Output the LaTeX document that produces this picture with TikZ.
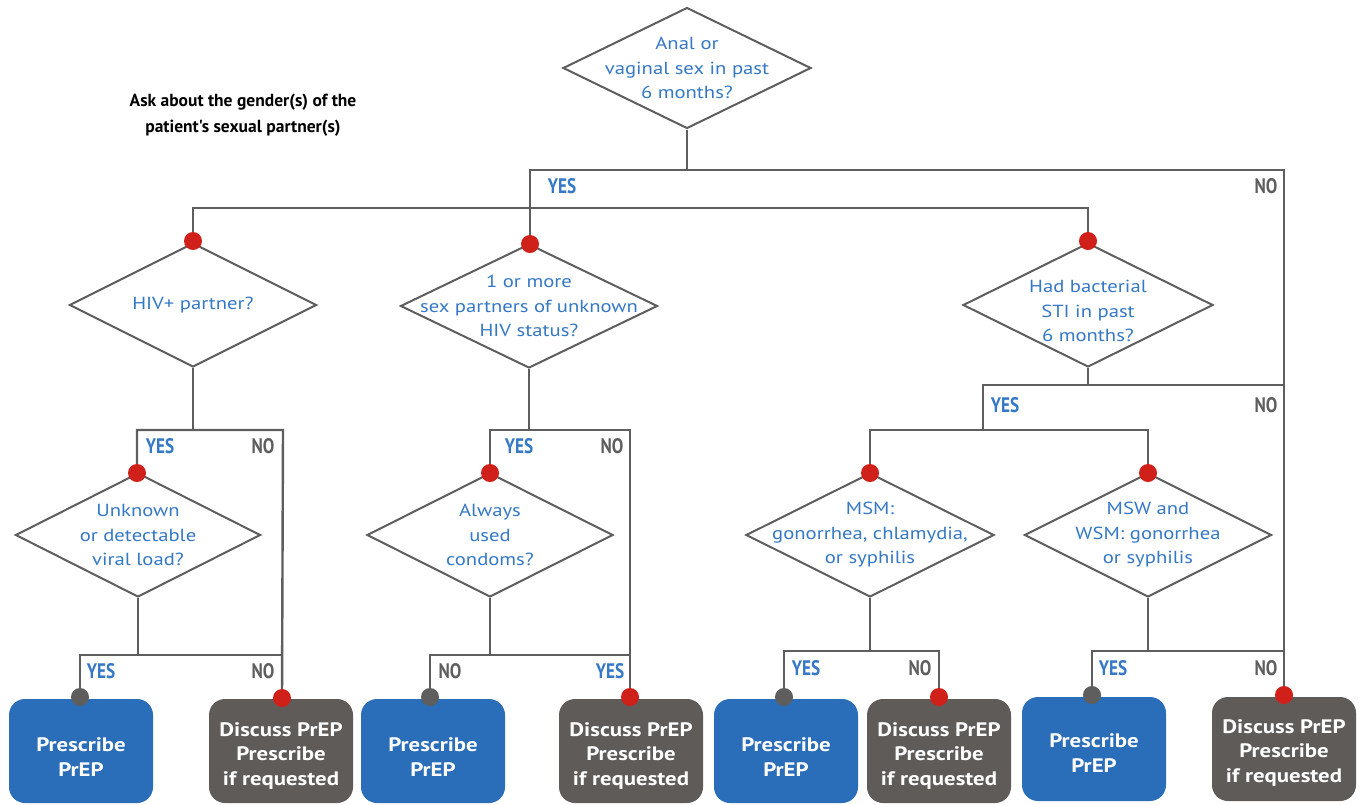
\documentclass[tikz,border=0pt]{standalone}
\usepackage{fontspec}
\setmainfont{PT Sans}
\newfontfamily\condf{PT Sans}[FakeStretch=0.82]
\newfontfamily\qf{PT Sans}[FakeStretch=1.18]
\newfontfamily\boxf{PT Sans}[FakeStretch=1.17]
\newfontfamily\notef{PT Sans}[FakeStretch=1.0]
\usetikzlibrary{shapes.geometric}
\definecolor{qblue}{HTML}{3478C6}
\definecolor{boxblue}{HTML}{2A6DB8}
\definecolor{boxgray}{HTML}{5F5B59}
\definecolor{linegray}{HTML}{5E5E5E}
\definecolor{dotred}{HTML}{D0201A}
\definecolor{dotgray}{HTML}{5E5E5E}
\begin{document}
\begin{tikzpicture}[x=1pt,y=-1pt,
  line/.style={draw=linegray, line width=2.4pt},
  dia/.style={diamond, draw=linegray, line width=2pt, inner sep=0pt, minimum height=124pt},
  qtext/.style={text=qblue, font=\qf\fontsize{17.5}{24.5}\selectfont, align=center},
  pbox/.style={rectangle, rounded corners=16pt, fill=boxblue, minimum width=144pt, minimum height=104pt, inner sep=0pt},
  gbox/.style={rectangle, rounded corners=16pt, fill=boxgray, minimum width=144pt, minimum height=104pt, inner sep=0pt},
  btext/.style={text=white, font=\boxf\bfseries\fontsize{19.5}{24.5}\selectfont, align=center},
  rdot/.style={circle, fill=dotred, minimum size=18pt, inner sep=0pt},
  gdot/.style={circle, fill=dotgray, minimum size=18pt, inner sep=0pt},
  yeslab/.style={text=qblue, font=\condf\bfseries\fontsize{21}{21}\selectfont},
  nolab/.style={text=linegray, font=\condf\bfseries\fontsize{21}{21}\selectfont},
  note/.style={text=black, font=\notef\bfseries\fontsize{17.5}{26}\selectfont, align=center}]
\useasboundingbox (0,0) rectangle (1366,804);

% note
\node[note] (ask) at (243,115) {Ask about the gender(s) of the\\patient's sexual partner(s)};

% diamonds
\node[dia, minimum width=248pt, minimum height=121pt] (d0) at (687,68) {};
\node[qtext] (t0) at (d0) {Anal or\\vaginal sex in past\\6 months?};
\node[dia, minimum width=247pt] (d1) at (193,305) {};
\node[qtext] (t1) at (d1) {HIV+ partner?};
\node[dia, minimum width=257pt] (d2) at (529,306) {};
\node[qtext] (t2) at (d2) {1 or more\\sex partners of unknown\\HIV status?};
\node[dia, minimum width=250pt] (d3) at (1088,305) {};
\node[qtext] (t3) at ([yshift=-6pt]d3.center) {Had bacterial\\STI in past\\6 months?};
\node[dia, minimum width=245pt] (d4) at (138,535) {};
\node[qtext] (t4) at (d4) {Unknown\\or detectable\\viral load?};
\node[dia, minimum width=246pt] (d5) at (490,535) {};
\node[qtext] (t5) at (d5) {Always\\used\\condoms?};
\node[dia, minimum width=248pt] (d6) at (870,535) {};
\node[qtext] (t6) at (d6) {MSM:\\gonorrhea, chlamydia,\\or syphilis};
\node[dia, minimum width=247pt] (d7) at (1148,535) {};
\node[qtext] (t7) at (d7) {MSW and\\WSM: gonorrhea\\or syphilis};

% boxes
\node[pbox] (b1) at (81,751) {};
\node[btext] at ([yshift=-6pt]b1.center) {Prescribe\\PrEP};
\node[gbox] (b2) at (281,751) {};
\node[btext] at ([yshift=-5pt]b2.center) {Discuss PrEP\\Prescribe\\if requested};
\node[pbox] (b3) at (433,751) {};
\node[btext] at ([yshift=-6pt]b3.center) {Prescribe\\PrEP};
\node[gbox] (b4) at (631,751) {};
\node[btext] at ([yshift=-5pt]b4.center) {Discuss PrEP\\Prescribe\\if requested};
\node[pbox] (b5) at (786,751) {};
\node[btext] at ([yshift=-6pt]b5.center) {Prescribe\\PrEP};
\node[gbox] (b6) at (939,751) {};
\node[btext] at ([yshift=-5pt]b6.center) {Discuss PrEP\\Prescribe\\if requested};
\node[pbox] (b7) at (1094,749) {};
\node[btext] at ([yshift=-4pt]b7.center) {Prescribe\\PrEP};
\node[gbox] (b8) at (1284,749) {};
\node[btext] at ([yshift=-4pt]b8.center) {Discuss PrEP\\Prescribe\\if requested};

% junction coordinates
\coordinate (j0) at (687,170);
\coordinate (jl) at (530,170);
\coordinate (jr) at (1284,170);
\coordinate (h1) at (193,208);
\coordinate (j1) at (193,430);
\coordinate (j1l) at (137,430);
\coordinate (j1r) at (283,430);
\coordinate (j4) at (138,655);
\coordinate (j4l) at (80,655);
\coordinate (j4r) at (283,655);
\coordinate (j2) at (529,430);
\coordinate (j2l) at (490,430);
\coordinate (j2r) at (630,430);
\coordinate (j5) at (490,655);
\coordinate (j5l) at (430,655);
\coordinate (j5r) at (630,655);
\coordinate (j3) at (1088,385);
\coordinate (j3l) at (983,385);
\coordinate (j3r) at (1284,385);
\coordinate (j3b) at (983,430);
\coordinate (j3bl) at (870,430);
\coordinate (j3br) at (1148,430);
\coordinate (j6) at (870,651);
\coordinate (j6l) at (784,651);
\coordinate (j6r) at (939,651);
\coordinate (j7) at (1148,651);
\coordinate (j7l) at (1092,651);
\coordinate (j7r) at (1284,651);

% dots (positions)
\coordinate (r1) at (193,241);
\coordinate (r2) at (530,244);
\coordinate (r3) at (1088,241);
\coordinate (r4) at (137,473);
\coordinate (r5) at (490,473);
\coordinate (r6) at (870,473);
\coordinate (r7) at (1148,473);
\coordinate (g1) at (80,697);
\coordinate (r8) at (282,698);
\coordinate (g3) at (430,697);
\coordinate (r9) at (630,697);
\coordinate (g5) at (784,697);
\coordinate (r10) at (939,697);
\coordinate (g7) at (1092,695);
\coordinate (r11) at (1284,695);

% connectors
\draw[line] (d0.south) -- (j0);
\draw[line] (r2) -- (jl) -- (jr) -- (r11);
\draw[line] (r1) -- (h1) -| (r3);
\draw[line] (d1.south) -- (j1);
\draw[line] (r4) -- (j1l) -- (j1r) -- (r8);
\draw[line] (d4.south) -- (j4);
\draw[line] (g1) -- (j4l) -- (j4r);
\draw[line] (d2.south) -- (j2);
\draw[line] (r5) -- (j2l) -- (j2r) -- (r9);
\draw[line] (d5.south) -- (j5);
\draw[line] (g3) -- (j5l) -- (j5r);
\draw[line] (d3.south) -- (j3);
\draw[line] (j3b) -- (j3l) -- (j3r);
\draw[line] (r6) -- (j3bl) -- (j3br) -- (r7);
\draw[line] (d6.south) -- (j6);
\draw[line] (g5) -- (j6l) -- (j6r) -- (r10);
\draw[line] (d7.south) -- (j7);
\draw[line] (g7) -- (j7l) -- (j7r);

% dots on top
\foreach \n/\s in {r1/rdot,r2/rdot,r3/rdot,r4/rdot,r5/rdot,r6/rdot,r7/rdot,g1/gdot,r8/rdot,g3/gdot,r9/rdot,g5/gdot,r10/rdot,g7/gdot,r11/rdot}
  \node[\s] (dot-\n) at (\n) {};

% labels
\node[yeslab] (y0) at (562,186) {YES};
\node[nolab] (n0) at (1266,186) {NO};
\node[yeslab] (y1) at (160,446) {YES};
\node[nolab] (n1) at (263,446) {NO};
\node[yeslab] (y4) at (101,671) {YES};
\node[nolab] (n4) at (263,671) {NO};
\node[yeslab] (y2) at (519,446) {YES};
\node[nolab] (n2) at (612,446) {NO};
\node[nolab] (n5) at (450,671) {NO};
\node[yeslab] (y5) at (610,671) {YES};
\node[yeslab] (y3) at (1005,405) {YES};
\node[nolab] (n3) at (1266,405) {NO};
\node[yeslab] (y6) at (806,668) {YES};
\node[nolab] (n6) at (920,668) {NO};
\node[yeslab] (y7) at (1113,668) {YES};
\node[nolab] (n7) at (1266,668) {NO};
\end{tikzpicture}
\end{document}
